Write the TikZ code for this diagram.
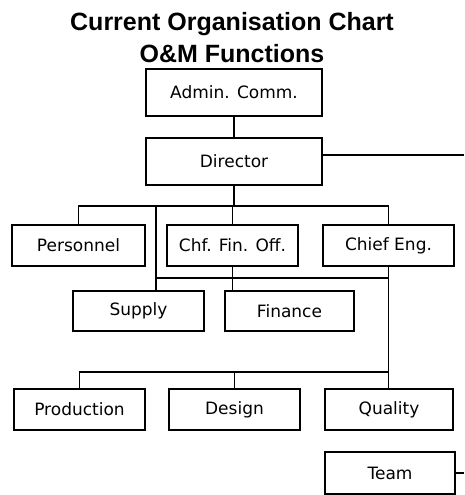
\documentclass[tikz,border=0pt]{standalone}
\usepackage{fontspec}
\setmainfont{DejaVu Sans}
\newfontfamily\titlefont{Liberation Sans}
\usetikzlibrary{positioning, calc}

\begin{document}
\begin{tikzpicture}[
  x=1pt, y=-1pt,
  font=\fontsize{17}{19}\selectfont,
  box/.style={rectangle, draw=black, line width=1.3pt, fill=white, minimum width=131pt, minimum height=41pt, align=center, inner sep=0pt},
  conn/.style={draw=black, line width=1.3pt},
  heading/.style={anchor=base, font=\titlefont\bfseries\fontsize{25}{32}\selectfont},
]
\useasboundingbox (0,0) rectangle (464,495);

\node[heading] (t1) at (232,31) {Current Organisation Chart};
\node[heading] (t2) at (232,62.5) {O\&M Functions};

\node[box, minimum width=176pt, minimum height=47pt] (adm) at (234,92.5) {Admin. Comm.};
\node[box, minimum width=176pt, minimum height=47pt] (dir) at (234,161.5) {Director};

\node[box, minimum width=133pt] (pers) at (78.5,245.5) {Personnel};
\node[box] (cfo)  at (232.5,245.5) {Chf. Fin. Off.};
\node[box] (ceng) at (388.5,245.5) {Chief Eng.};

\node[box, minimum height=40pt] (sup) at (138.5,311) {Supply};
\node[box, minimum width=129pt, minimum height=40pt] (fin) at (289.5,311) {Finance};

\node[box] (prod) at (79.5,409.5) {Production};
\node[box] (des)  at (234.5,409.5) {Design};
\node[box, minimum width=128pt] (qual) at (389,409.5) {Quality};
\node[box, minimum width=130pt, minimum height=42pt] (team) at (390,473) {Team};

\coordinate (dirR) at (464,155);
\coordinate (bus1) at (0,206);
\coordinate (tapS) at (156,206);
\coordinate (bus2) at (0,278);
\coordinate (bus3) at (0,372);
\coordinate (teamR) at (464,473);

\draw[conn] (adm.south) -- (dir.north);
\draw[conn] (dir.east |- dirR) -- (dirR);
\draw[conn] (dir.south) -- (dir.south |- bus1);
\draw[conn] (pers.north) -- (pers.north |- bus1) -- (ceng.north |- bus1) -- (ceng.north);
\draw[conn] (cfo.north) -- (cfo.north |- bus1);
\draw[conn] (tapS) -- (tapS |- sup.north);
\draw[conn] (tapS |- bus2) -- (ceng.south |- bus2);
\draw[conn] (cfo.south) -- (cfo.south |- fin.north);
\draw[conn] (ceng.south) -- (ceng.south |- qual.north);
\draw[conn] (prod.north) -- (prod.north |- bus3) -- (ceng.south |- bus3);
\draw[conn] (des.north) -- (des.north |- bus3);
\draw[conn] (team.east) -- (teamR);
\end{tikzpicture}
\end{document}
